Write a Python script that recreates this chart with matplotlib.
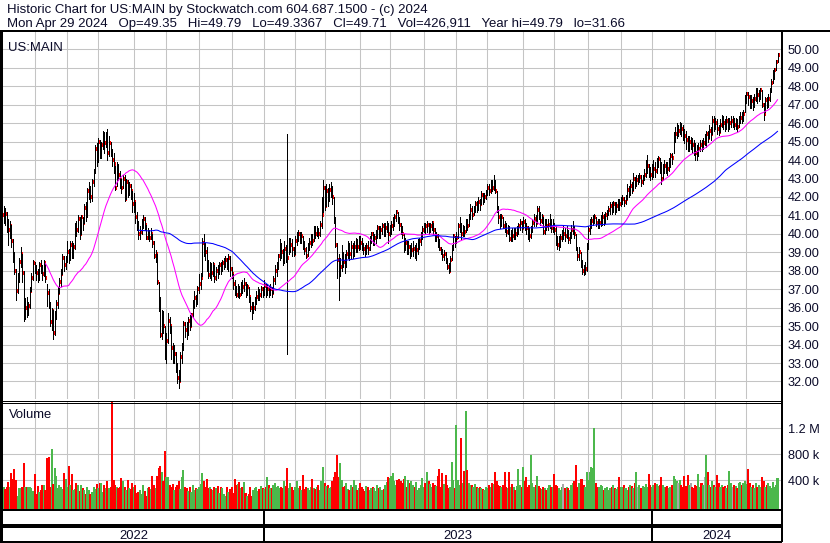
import numpy as np
import pandas as pd
import matplotlib
matplotlib.use("Agg")
import matplotlib.pyplot as plt
from matplotlib.lines import Line2D

plt.rcParams['font.family'] = ['Liberation Sans', 'DejaVu Sans']

# ---- daily bars (US:MAIN, Apr 29 2022 - Apr 29 2024) ----
close_2022 = [
    40.6, 41.0, 41.2, 41.1, 40.5, 40.2, 40.4, 39.6, 38.8, 38.0,
    36.9, 37.6, 38.5, 38.9, 37.9, 35.6, 36.0, 35.8, 36.1, 36.9,
    37.6, 38.4, 38.2, 37.9, 37.6, 38.3, 38.2, 37.8, 38.4, 37.6,
    36.8, 36.2, 35.2, 35.8, 34.6, 35.6, 36.2, 36.8, 37.4, 37.8,
    38.7, 38.3, 38.6, 39.0, 38.8, 39.4, 39.0, 39.3, 40.5, 40.2,
    40.8, 40.0, 40.9, 40.6, 41.4, 41.0, 42.3, 42.4, 42.0, 42.8,
    43.4, 44.6, 44.0, 45.0, 44.4, 44.8, 45.4, 44.9, 45.3, 44.4,
    44.9, 44.5, 44.0, 43.8, 42.5, 43.7, 43.2, 42.9, 42.5, 43.0,
    41.9, 42.8, 42.2, 42.6, 42.3, 41.6, 41.7, 40.9, 40.4, 40.0,
    40.1, 40.6, 40.8, 40.5, 39.8, 40.1, 39.8, 40.0, 39.5, 38.8,
    38.9, 37.4, 36.4, 34.5, 35.4, 35.0, 33.6, 34.2, 35.3, 35.0,
    33.8, 33.2, 33.5, 32.6, 32.2, 32.0, 33.3, 33.8, 35.1, 34.8,
    34.6, 35.3, 35.0, 35.6, 36.2, 36.5, 36.25, 37.0, 37.3, 37.6,
    39.5, 39.4, 39.0, 38.5, 37.75, 38.2, 37.9, 38.3, 37.6, 38.0,
    37.9, 38.3, 38.1, 38.4, 38.5, 38.6, 38.3, 38.7, 38.1, 37.8,
    37.3, 37.0, 36.7, 37.0, 36.7, 37.2, 37.1, 37.3, 36.8, 37.1,
    36.6, 36.0, 35.9, 36.0, 36.4, 36.6, 36.9, 36.7, 37.0, 36.9]
high_2022 = [
    41.0, 41.3, 41.5, 41.4, 41.2, 40.8, 40.7, 40.5, 39.7, 39.0,
    38.1, 37.9, 38.7, 39.3, 38.9, 38.0, 36.5, 36.6, 36.3, 37.1,
    37.9, 38.6, 38.5, 38.3, 38.1, 38.5, 38.6, 38.3, 38.6, 38.4,
    37.3, 37.0, 36.3, 36.0, 35.9, 35.8, 36.4, 37.1, 37.6, 38.1,
    38.9, 38.8, 38.8, 39.6, 39.2, 39.6, 39.6, 39.5, 40.6, 40.7,
    41.0, 40.9, 41.0, 40.9, 41.6, 41.7, 42.5, 42.8, 42.6, 43.0,
    43.5, 44.8, 44.9, 45.2, 45.1, 45.0, 45.6, 45.5, 45.5, 45.7,
    45.3, 45.0, 44.6, 44.4, 43.7, 43.9, 43.8, 43.4, 43.0, 43.2,
    43.2, 43.0, 42.9, 42.8, 42.7, 42.3, 42.2, 41.7, 41.2, 40.7,
    40.4, 40.8, 41.0, 40.9, 40.5, 40.3, 40.2, 40.3, 40.0, 39.6,
    39.1, 38.9, 37.4, 36.6, 35.9, 35.8, 35.0, 34.6, 35.7, 35.5,
    35.0, 34.1, 34.0, 33.6, 33.0, 32.6, 33.6, 34.1, 35.3, 35.2,
    35.2, 35.5, 35.6, 35.7, 36.4, 36.9, 36.7, 37.2, 37.8, 37.9,
    39.8, 40.0, 39.5, 39.3, 38.6, 38.5, 38.4, 38.5, 38.3, 38.2,
    38.3, 38.5, 38.5, 38.6, 38.7, 38.8, 38.7, 38.9, 38.8, 38.2,
    37.8, 37.5, 37.2, 37.3, 37.2, 37.4, 37.5, 37.6, 37.4, 37.3,
    37.1, 36.6, 36.3, 36.3, 36.6, 36.9, 37.1, 37.0, 37.2, 37.1]
low_2022 = [
    40.0, 40.3, 40.6, 40.5, 40.1, 39.4, 39.8, 39.3, 38.5, 37.8,
    36.4, 36.8, 37.4, 38.2, 37.4, 35.3, 35.4, 35.5, 35.6, 36.0,
    36.9, 37.5, 37.9, 37.5, 37.4, 37.5, 37.9, 37.5, 37.7, 37.4,
    36.1, 36.0, 35.0, 34.8, 34.3, 34.5, 35.4, 36.0, 36.8, 37.2,
    37.8, 38.0, 38.1, 38.5, 38.4, 38.6, 38.7, 38.7, 39.2, 39.9,
    40.1, 39.7, 40.0, 40.2, 40.6, 40.7, 40.9, 41.9, 41.7, 41.8,
    42.6, 43.3, 43.7, 43.9, 44.1, 44.1, 44.6, 44.4, 44.7, 44.0,
    44.2, 44.2, 43.7, 43.3, 42.4, 42.6, 42.9, 42.5, 42.2, 42.5,
    41.8, 41.9, 42.0, 42.1, 41.9, 41.2, 41.2, 40.6, 40.2, 39.7,
    39.7, 40.0, 40.3, 40.2, 39.7, 39.7, 39.6, 39.7, 39.3, 38.7,
    38.5, 37.3, 35.8, 34.4, 34.3, 34.6, 33.2, 33.0, 34.1, 34.6,
    33.2, 33.0, 33.0, 32.5, 31.9, 31.66, 32.0, 33.0, 33.7, 34.4,
    34.3, 34.5, 34.8, 35.0, 35.5, 36.0, 36.1, 36.2, 36.8, 37.0,
    37.7, 38.8, 38.6, 38.0, 37.6, 37.6, 37.5, 37.7, 37.4, 37.5,
    37.6, 37.8, 37.8, 38.0, 38.1, 38.2, 38.1, 38.0, 37.7, 37.6,
    37.0, 36.7, 36.6, 36.6, 36.5, 36.7, 36.8, 36.9, 36.6, 36.7,
    36.3, 35.8, 35.4, 35.7, 35.9, 36.2, 36.4, 36.4, 36.6, 36.6]

close_2023 = [
    37.2, 36.9, 37.0, 36.9, 37.0, 36.8, 37.5, 38.0, 38.2, 38.8,
    39.3, 39.0, 38.6, 39.2, 38.9, 38.7, 39.3, 39.4, 39.2, 38.9,
    39.6, 39.8, 40.0, 39.7, 39.9, 39.4, 39.1, 38.8, 39.2, 39.5,
    39.8, 39.6, 40.3, 40.0, 40.2, 40.0, 40.5, 41.0, 42.5, 41.5,
    42.3, 41.9, 42.4, 42.5, 42.0, 40.8, 39.4, 38.6, 37.8, 38.2,
    38.8, 38.5, 38.4, 38.9, 39.3, 38.9, 39.3, 39.1, 39.3, 39.4,
    39.3, 39.7, 39.5, 39.4, 39.2, 39.0, 39.3, 39.2, 39.7, 40.0,
    39.6, 39.8, 39.9, 40.3, 40.0, 40.2, 40.4, 40.2, 40.3, 40.5,
    40.0, 40.3, 40.4, 40.6, 40.9, 41.2, 40.8, 40.5, 40.2, 40.0,
    39.3, 39.5, 39.0, 39.3, 39.0, 39.1, 39.2, 39.0, 39.1, 39.4,
    39.6, 39.9, 40.2, 40.5, 40.4, 40.5, 40.3, 40.4, 40.6, 40.2,
    39.8, 39.9, 39.6, 39.2, 39.0, 38.8, 38.9, 38.5, 38.2, 38.0,
    38.6, 39.2, 39.9, 39.6, 39.8, 40.4, 40.5, 40.0, 40.3, 40.1,
    40.6, 40.4, 40.9, 41.3, 41.0, 41.3, 41.6, 41.4, 41.7, 41.6,
    42.1, 41.8, 42.0, 42.2, 42.5, 42.3, 42.6, 42.5, 42.8, 42.3,
    41.3, 40.9, 40.6, 40.9, 40.4, 40.3, 40.1, 40.3, 39.7, 40.0,
    39.9, 40.1, 40.0, 40.2, 40.4, 40.6, 40.3, 40.65, 40.5, 40.3,
    40.0, 39.9, 40.2, 40.6, 40.8, 40.6, 41.3, 41.0, 40.7, 40.9,
    40.1, 40.6, 40.4, 40.5, 40.7, 40.3, 40.5, 40.2, 39.8, 39.4,
    39.5, 39.8, 40.0, 40.0, 39.9, 40.1, 39.7, 39.9, 40.2, 40.3,
    40.0, 39.2, 38.8, 39.0, 38.4, 38.0, 37.9, 38.1, 39.3, 40.2,
    40.5, 40.7, 40.8, 40.9, 40.6, 40.5, 40.6, 40.7, 40.9, 40.8,
    41.0, 41.1, 41.3, 41.5, 41.4, 41.6, 41.4, 41.5, 41.7, 41.6,
    41.8, 41.9, 41.7, 41.9, 42.4, 42.2, 42.6, 42.4, 43.0, 42.7,
    42.9, 42.9, 43.1, 42.8, 42.95, 43.2, 43.5, 43.7, 43.4, 43.2]
high_2023 = [
    37.5, 37.3, 37.3, 37.2, 37.3, 37.1, 37.7, 38.3, 38.5, 38.9,
    39.7, 39.5, 39.2, 39.6, 39.4, 45.4, 39.8, 39.8, 39.7, 39.3,
    39.9, 40.1, 40.2, 40.1, 40.1, 39.9, 39.6, 39.3, 39.5, 39.8,
    40.0, 40.0, 40.4, 40.4, 40.4, 40.3, 40.7, 42.0, 42.9, 42.6,
    42.7, 42.5, 42.7, 42.8, 42.6, 42.0, 40.9, 39.5, 38.9, 38.7,
    39.4, 39.0, 38.9, 39.1, 39.6, 39.5, 39.6, 39.5, 39.6, 39.8,
    39.7, 39.9, 39.9, 39.8, 39.5, 39.4, 39.5, 39.6, 39.9, 40.1,
    40.1, 40.0, 40.2, 40.5, 40.4, 40.4, 40.6, 40.6, 40.6, 40.7,
    40.6, 40.5, 40.7, 40.9, 41.1, 41.3, 41.2, 40.9, 40.6, 40.4,
    40.0, 39.8, 39.6, 39.6, 39.4, 39.5, 39.6, 39.4, 39.5, 39.7,
    39.8, 40.1, 40.4, 40.6, 40.6, 40.7, 40.6, 40.6, 40.7, 40.6,
    40.3, 40.1, 40.0, 39.7, 39.3, 39.2, 39.1, 39.0, 38.7, 38.4,
    38.8, 39.4, 40.0, 39.9, 40.1, 40.6, 40.9, 40.6, 40.5, 40.4,
    40.8, 40.8, 41.1, 41.6, 41.5, 41.5, 41.8, 41.8, 42.0, 41.9,
    42.3, 42.2, 42.2, 42.4, 42.7, 42.7, 42.9, 42.9, 43.18, 42.9,
    42.3, 41.5, 41.1, 41.1, 40.9, 40.7, 40.6, 40.5, 40.4, 40.2,
    40.3, 40.3, 40.3, 40.4, 40.6, 40.8, 40.7, 40.9, 40.8, 40.6,
    40.4, 40.3, 40.4, 40.8, 41.1, 41.0, 41.5, 41.5, 41.2, 41.1,
    40.9, 40.8, 40.8, 40.8, 41.1, 40.8, 40.8, 40.6, 40.4, 39.9,
    39.9, 40.0, 40.2, 40.4, 40.3, 40.4, 40.2, 40.1, 40.5, 40.7,
    40.4, 40.0, 39.3, 39.3, 39.0, 38.6, 38.3, 38.5, 39.5, 40.4,
    40.8, 40.9, 41.0, 41.1, 40.9, 40.8, 40.8, 41.0, 41.2, 41.1,
    41.2, 41.3, 41.5, 41.7, 41.7, 41.8, 41.7, 41.7, 41.9, 41.9,
    42.0, 42.1, 42.0, 42.1, 42.7, 42.6, 42.9, 42.8, 43.3, 43.1,
    43.2, 43.2, 43.3, 43.2, 43.2, 43.5, 44.0, 44.26, 43.8, 43.6]
low_2023 = [
    36.7, 36.6, 36.7, 36.6, 36.7, 36.6, 36.8, 37.3, 37.7, 38.1,
    38.6, 38.7, 38.3, 38.4, 38.5, 33.5, 38.9, 39.0, 38.8, 38.8,
    38.9, 39.4, 39.6, 39.5, 39.5, 39.2, 38.9, 38.7, 38.8, 39.1,
    39.3, 39.4, 39.6, 39.8, 39.9, 39.8, 39.9, 40.3, 41.2, 41.3,
    41.5, 41.5, 41.8, 42.0, 41.6, 40.6, 39.3, 37.6, 36.4, 37.7,
    38.0, 38.2, 37.9, 38.2, 38.7, 38.6, 38.7, 38.7, 38.8, 39.0,
    39.0, 39.1, 39.2, 39.1, 38.9, 38.8, 38.9, 38.9, 39.1, 39.5,
    39.4, 39.4, 39.5, 39.8, 39.8, 39.8, 40.0, 39.9, 39.9, 40.1,
    39.5, 39.9, 40.0, 40.2, 40.4, 40.7, 40.6, 40.2, 40.0, 39.8,
    39.0, 39.1, 38.9, 38.9, 38.7, 38.8, 38.8, 38.7, 38.6, 38.9,
    39.2, 39.4, 39.7, 40.1, 40.0, 40.1, 40.0, 40.1, 40.2, 40.0,
    39.6, 39.6, 39.3, 39.1, 38.9, 38.6, 38.6, 38.4, 38.1, 37.9,
    38.0, 38.6, 39.1, 39.3, 39.5, 39.8, 40.1, 39.7, 39.9, 39.9,
    40.1, 40.2, 40.4, 40.8, 40.8, 41.0, 41.2, 41.2, 41.3, 41.3,
    41.6, 41.6, 41.7, 41.9, 42.1, 42.1, 42.2, 42.3, 42.4, 42.2,
    41.2, 40.6, 40.3, 40.4, 40.3, 40.1, 39.9, 40.0, 39.6, 39.6,
    39.6, 39.7, 39.7, 39.9, 40.0, 40.2, 40.1, 40.3, 40.2, 40.0,
    39.7, 39.6, 39.8, 40.1, 40.4, 40.4, 40.6, 40.8, 40.5, 40.6,
    40.0, 40.0, 40.2, 40.2, 40.3, 40.1, 40.1, 40.0, 39.4, 39.2,
    39.1, 39.3, 39.6, 39.7, 39.6, 39.8, 39.5, 39.5, 39.8, 40.0,
    39.8, 39.1, 38.6, 38.6, 38.2, 37.8, 37.75, 37.8, 38.0, 39.2,
    40.0, 40.3, 40.5, 40.6, 40.4, 40.3, 40.3, 40.4, 40.5, 40.5,
    40.6, 40.8, 41.0, 41.1, 41.1, 41.2, 41.1, 41.2, 41.3, 41.3,
    41.5, 41.6, 41.5, 41.6, 41.9, 42.0, 42.1, 42.2, 42.4, 42.5,
    42.6, 42.7, 42.8, 42.6, 42.7, 42.9, 43.1, 43.3, 43.1, 42.9]

close_2024 = [
    43.3, 43.5, 43.4, 43.8, 44.06, 43.8, 43.0, 43.5, 43.7, 43.6,
    43.5, 43.8, 44.2, 44.1, 45.2, 45.4, 45.6, 45.6, 45.8, 45.7,
    45.5, 45.3, 45.1, 44.7, 45.0, 45.0, 44.8, 44.6, 44.4, 44.3,
    44.6, 44.8, 44.7, 44.9, 44.9, 45.4, 45.2, 45.6, 45.4, 46.1,
    45.9, 46.0, 45.7, 45.5, 45.9, 46.2, 46.0, 45.8, 46.1, 45.9,
    46.0, 46.1, 46.1, 45.9, 46.0, 45.8, 46.1, 46.3, 46.2, 46.5,
    47.3, 47.6, 47.4, 47.1, 47.2, 47.0, 47.3, 47.7, 47.5, 47.6,
    47.8, 47.0, 46.5, 47.25, 47.0, 47.3, 47.8, 48.2, 48.7, 48.9,
    49.3, 49.71]
high_2024 = [
    43.8, 44.0, 43.9, 44.1, 44.2, 44.1, 43.9, 43.8, 44.0, 43.9,
    43.9, 44.1, 44.4, 44.4, 45.5, 45.8, 46.0, 45.9, 46.07, 46.0,
    45.9, 45.7, 45.6, 45.3, 45.3, 45.26, 45.2, 45.1, 44.9, 44.8,
    44.9, 45.1, 45.1, 45.2, 45.4, 45.6, 45.6, 45.9, 45.8, 46.4,
    46.4, 46.3, 46.2, 45.9, 46.2, 46.44, 46.4, 46.2, 46.4, 46.3,
    46.3, 46.4, 46.4, 46.3, 46.3, 46.2, 46.4, 46.6, 46.6, 46.7,
    47.5, 47.7, 47.7, 47.5, 47.5, 47.4, 47.6, 47.9, 47.9, 47.8,
    47.9, 47.8, 47.1, 47.4, 47.4, 47.6, 47.9, 48.4, 48.9, 49.0,
    49.4, 49.79]
low_2024 = [
    43.0, 43.1, 43.1, 43.3, 43.6, 43.3, 42.7, 42.9, 43.3, 43.3,
    43.2, 43.4, 43.6, 43.8, 44.4, 45.0, 45.2, 45.3, 45.4, 45.3,
    45.1, 44.9, 44.6, 44.5, 44.5, 44.6, 44.4, 44.3, 44.0, 44.0,
    44.2, 44.5, 44.5, 44.6, 44.8, 44.7, 45.0, 45.2, 45.1, 45.4,
    45.6, 45.7, 45.4, 45.35, 45.5, 45.8, 45.7, 45.6, 45.7, 45.6,
    45.7, 45.8, 45.8, 45.7, 45.7, 45.6, 45.8, 46.0, 46.0, 46.1,
    46.6, 47.1, 47.0, 46.8, 46.8, 46.7, 46.9, 47.2, 47.1, 47.2,
    47.3, 46.9, 46.16, 46.6, 46.8, 46.9, 47.2, 47.7, 48.2, 48.4,
    48.9, 49.34]

# daily volume, thousands of shares
vol_2022 = [
    580, 300, 290, 260, 300, 375, 290, 515, 420, 570,
    400, 150, 270, 280, 290, 660, 285, 300, 290, 290,
    280, 230, 490, 180, 310, 210, 240, 320, 330, 240,
    740, 760, 300, 870, 340, 580, 460, 280, 330, 300,
    260, 515, 410, 300, 615, 330, 490, 250, 260, 350,
    320, 230, 320, 280, 250, 190, 290, 250, 180, 220,
    300, 260, 340, 270, 350, 360, 210, 330, 280, 390,
    270, 300, 1750, 400, 330, 300, 280, 300, 425, 380,
    290, 250, 395, 270, 260, 355, 300, 330, 200, 220,
    250, 180, 320, 230, 160, 270, 300, 260, 455, 320,
    270, 460, 590, 615, 520, 380, 846, 440, 450, 330,
    300, 340, 250, 290, 320, 380, 260, 440, 550, 300,
    280, 230, 290, 210, 320, 250, 270, 260, 300, 340,
    510, 390, 300, 410, 280, 300, 260, 240, 300, 270,
    310, 200, 300, 280, 180, 150, 290, 220, 260, 300,
    200, 420, 320, 340, 370, 280, 300, 370, 200, 160,
    180, 300, 150, 250, 280, 290, 230, 260, 310, 270]
vol_2023 = [
    260, 300, 450, 320, 280, 270, 330, 350, 300, 310,
    270, 300, 280, 380, 310, 580, 270, 360, 290, 250,
    300, 380, 270, 310, 250, 480, 260, 300, 280, 240,
    300, 420, 280, 260, 300, 330, 250, 390, 600, 350,
    310, 330, 280, 300, 380, 450, 530, 785, 450, 655,
    400, 290, 310, 360, 260, 240, 330, 300, 400, 320,
    250, 270, 350, 300, 260, 230, 310, 290, 250, 280,
    300, 270, 230, 320, 280, 300, 240, 260, 330, 370,
    450, 430, 460, 515, 380, 330, 400, 420, 380, 350,
    420, 460, 300, 400, 350, 380, 330, 300, 370, 250,
    280, 330, 425, 300, 350, 520, 390, 340, 300, 360,
    330, 310, 460, 565, 300, 510, 340, 470, 320, 280,
    300, 680, 400, 280, 1240, 400, 330, 1050, 350, 540,
    1460, 560, 350, 320, 330, 300, 340, 290, 270, 300,
    270, 260, 240, 300, 280, 320, 300, 350, 340, 530,
    380, 330, 310, 300, 320, 525, 290, 280, 520, 300,
    340, 300, 250, 310, 570, 330, 290, 600, 380, 440,
    300, 320, 785, 350, 300, 330, 460, 310, 280, 260,
    300, 280, 250, 270, 320, 300, 290, 485, 330, 310,
    270, 250, 300, 340, 280, 300, 270, 240, 330, 360,
    380, 630, 300, 350, 420, 410, 330, 300, 530, 400,
    530, 600, 590, 1200, 350, 300, 300, 330, 310, 250,
    280, 300, 250, 270, 300, 330, 280, 260, 300, 440,
    300, 290, 330, 270, 250, 300, 320, 310, 280, 350,
    520, 300, 330, 280, 310, 300, 340, 300, 500, 330]
vol_2024 = [
    300, 330, 350, 340, 310, 330, 450, 320, 290, 300,
    310, 280, 300, 330, 460, 410, 380, 350, 400, 330,
    300, 460, 310, 470, 330, 350, 300, 280, 330, 310,
    490, 300, 350, 320, 450, 780, 530, 320, 300, 380,
    330, 300, 475, 350, 290, 330, 300, 310, 280, 330,
    540, 350, 300, 330, 310, 280, 350, 370, 330, 360,
    380, 340, 570, 350, 300, 330, 280, 350, 300, 330,
    300, 450, 380, 300, 330, 360, 310, 280, 370, 300,
    330, 427]

nyse_holidays = [
    '2022-05-30', '2022-06-20', '2022-07-04', '2022-09-05', '2022-11-24', '2022-12-26',
    '2023-01-02', '2023-01-16', '2023-02-20', '2023-04-07', '2023-05-29', '2023-06-19',
    '2023-07-04', '2023-09-04', '2023-11-23', '2023-12-25',
    '2024-01-01', '2024-01-15', '2024-02-19', '2024-03-29']

header_1 = "Historic Chart for US:MAIN by Stockwatch.com 604.687.1500 - (c) 2024"
header_2 = ("Mon Apr 29 2024   Op=49.35   Hi=49.79   Lo=49.3367   Cl=49.71   "
            "Vol=426,911   Year hi=49.79   lo=31.66")

close = np.array(close_2022 + close_2023 + close_2024)
high = np.array(high_2022 + high_2023 + high_2024)
low = np.array(low_2022 + low_2023 + low_2024)
volume = np.array(vol_2022 + vol_2023 + vol_2024)

days = pd.bdate_range('2022-04-29', '2024-04-29', freq='C', holidays=nyse_holidays)
assert len(days) == len(close) == len(high) == len(low) == len(volume)
x = np.arange(len(days))

ma_fast = pd.Series(close).rolling(30).mean()
ma_slow = pd.Series(close).rolling(90).mean()

month_starts = [i for i in range(1, len(days)) if days[i].month != days[i - 1].month]
year_starts = [i for i in month_starts if days[i].month == 1]

chg = np.round(np.diff(close, prepend=close[0]), 4)
vol_colors = np.where(chg > 0, '#4cb84c', np.where(chg < 0, '#ff0000', '#a8a8a8'))

# ---- figure laid out in pixels ----
W, H = 830, 543
fig = plt.figure(figsize=(W / 100, H / 100), dpi=100, facecolor='white')
txt = '#0a0a28'
fs = 9.2
grid_c = '#c4c4c4'


def px_axes(x0, y0, x1, y1):
    return fig.add_axes([x0 / W, 1 - y1 / H, (x1 - x0) / W, (y1 - y0) / H])


def px_line(xs, ys, lw):
    fig.add_artist(Line2D([v / W for v in xs], [1 - v / H for v in ys],
                          color='black', lw=lw * 0.72, solid_capstyle='butt',
                          antialiased=False))


xlim = (2.57, 503.9)

ax = px_axes(2, 32, 782, 399)
axv = px_axes(2, 402, 782, 509)
band = px_axes(2, 510, 782, 542)

for a in (ax, axv, band):
    a.set_xlim(*xlim)
    for s in a.spines.values():
        s.set_visible(False)
    a.set_xticks(month_starts)
    a.tick_params(axis='x', length=0, labelbottom=False)
    a.set_axisbelow(True)

# price panel
ax.set_ylim(31.05, 50.94)
ax.set_yticks(range(32, 51))
ax.set_yticklabels([f"{v:.2f}" for v in range(32, 51)])
ax.yaxis.tick_right()
ax.tick_params(axis='y', length=0, pad=4, labelsize=fs, labelcolor=txt)
ax.grid(True, color=grid_c, lw=0.75)

ax.hlines(close, x + 0.25, x + 1.3, colors='red', lw=1.5, zorder=2, antialiased=False)
ax.vlines(x, low, high, colors='black', lw=0.68, zorder=3, antialiased=False)
ax.plot(x, ma_fast, color='#ff00ff', lw=0.75, zorder=4)
ax.plot(x, ma_slow, color='#0000ff', lw=0.75, zorder=4)
ax.text(0.008, 0.972, "US:MAIN", transform=ax.transAxes, fontsize=9.45, color=txt,
        va='top', ha='left')

# volume panel
vbot = -46
axv.set_ylim(vbot, 1600)
axv.set_yticks([400, 800, 1200])
axv.set_yticklabels(['400 k', '800 k', '1.2 M'])
axv.yaxis.tick_right()
axv.tick_params(axis='y', length=0, pad=4, labelsize=fs, labelcolor=txt)
axv.grid(True, color=grid_c, lw=0.75)
axv.bar(x, volume - vbot, bottom=vbot, width=1.3, color=vol_colors, lw=0,
        antialiased=False, zorder=2)
axv.text(0.009, 0.93, "Volume", transform=axv.transAxes, fontsize=9.4, color=txt,
         va='top', ha='left')

# date band
band.set_ylim(0, 1)
band.set_yticks([])
band.grid(False)
edges = [xlim[0]] + year_starts + [xlim[1]]
for i, yr in enumerate(['2022', '2023', '2024']):
    band.text((edges[i] + edges[i + 1]) / 2, 0.08, yr, ha='center', va='baseline',
              fontsize=9.4, color=txt)
for ys in year_starts:
    band.axvline(ys, color='black', lw=1.1, antialiased=False)

# frame lines
px_line([0, W], [31, 31], 2)
px_line([1, 1], [31, H], 2.5)
px_line([782, 782], [31, H - 1], 2)
px_line([0, 782], [400.5, 400.5], 1)
px_line([0, 782], [402.8, 402.8], 1)
px_line([0, 782], [509.5, 509.5], 2)
px_line([0, 782], [526.3, 526.3], 2.5)
px_line([0, 782], [542, 542], 2)

fig.text(6.5 / W, 1 - 13.5 / H, header_1, fontsize=9.53, color=txt, va='baseline')
fig.text(6.5 / W, 1 - 27 / H, header_2, fontsize=9.53, color=txt, va='baseline')

fig.savefig('out.png', dpi=100, facecolor='white')
